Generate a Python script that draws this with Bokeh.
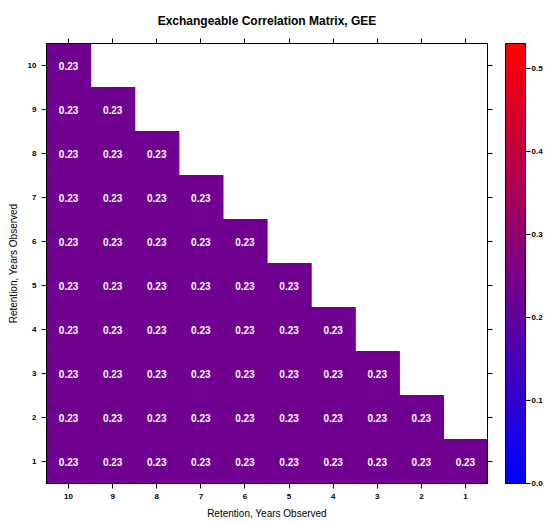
from bokeh.plotting import figure
from bokeh.models import (ColumnDataSource, LinearColorMapper, ColorBar, FixedTicker,
                          PrintfTickFormatter, CategoricalAxis, CustomJSTickFormatter)
from bokeh.transform import transform
from bokeh.core.properties import value
from bokeh.embed import file_html
from bokeh.resources import INLINE

# ---- data ----
x_labels = ["10", "9", "8", "7", "6", "5", "4", "3", "2", "1"]   # columns, left to right
y_labels = ["1", "2", "3", "4", "5", "6", "7", "8", "9", "10"]   # rows, bottom to top

# correlation rows (row label -> values for columns 10..1, None = empty)
corr_rows = {
    "10": [0.23, None, None, None, None, None, None, None, None, None],
    "9":  [0.23, 0.23, None, None, None, None, None, None, None, None],
    "8":  [0.23, 0.23, 0.23, None, None, None, None, None, None, None],
    "7":  [0.23, 0.23, 0.23, 0.23, None, None, None, None, None, None],
    "6":  [0.23, 0.23, 0.23, 0.23, 0.23, None, None, None, None, None],
    "5":  [0.23, 0.23, 0.23, 0.23, 0.23, 0.23, None, None, None, None],
    "4":  [0.23, 0.23, 0.23, 0.23, 0.23, 0.23, 0.23, None, None, None],
    "3":  [0.23, 0.23, 0.23, 0.23, 0.23, 0.23, 0.23, 0.23, None, None],
    "2":  [0.23, 0.23, 0.23, 0.23, 0.23, 0.23, 0.23, 0.23, 0.23, None],
    "1":  [0.23, 0.23, 0.23, 0.23, 0.23, 0.23, 0.23, 0.23, 0.23, 0.23],
}
color_ticks = [0.0, 0.1, 0.2, 0.3, 0.4, 0.5]
color_low, color_high = 0.0, 0.53

xs, ys, vs, labels = [], [], [], []
for row, vals in corr_rows.items():
    for col, v in zip(x_labels, vals):
        if v is not None:
            xs.append(col)
            ys.append(row)
            vs.append(v)
            labels.append(f"{v:.2f}")
src = ColumnDataSource(dict(x=xs, y=ys, v=vs, label=labels))

# blue -> red palette
palette = []
for i in range(256):
    t = i / 255
    palette.append("#%02x%02x%02x" % (round(255 * t), 0, round(255 * (1 - t))))
mapper = LinearColorMapper(palette=palette, low=color_low, high=color_high)

FONT = "Liberation Sans"

p = figure(width=545, height=523, x_range=x_labels, y_range=y_labels,
           output_backend="svg", toolbar_location=None,
           title="Exchangeable Correlation Matrix, GEE",
           min_border_left=46, min_border_top=43, min_border_bottom=40, min_border_right=10)

p.rect(x="x", y="y", width=1, height=1, source=src,
       fill_color=transform("v", mapper), line_color=transform("v", mapper), line_width=1.2)
p.text(x="x", y="y", text="label", source=src, text_color="white",
       text_font=value(FONT), text_font_style="bold", text_font_size="10px",
       text_align="center", text_baseline="middle")

p.title.align = "center"
p.title.standoff = 21
p.title.text_font = FONT
p.title.text_font_size = "12px"
p.title.text_font_style = "bold"
p.title.text_color = "black"

p.grid.visible = False
p.outline_line_color = "black"
p.outline_line_alpha = 1
p.outline_line_width = 1

for ax in (p.xaxis[0], p.yaxis[0]):
    ax.axis_label = "Retention, Years Observed"
    ax.axis_label_text_font = FONT
    ax.axis_label_text_font_size = "10px"
    ax.axis_label_text_font_style = "normal"
    ax.axis_label_text_color = "black"
    ax.axis_label_standoff = 6
    ax.major_label_text_font = FONT
    ax.major_label_text_font_size = "8px"
    ax.major_label_text_font_style = "bold"
    ax.major_label_text_color = "black"
    ax.major_label_standoff = 5
    ax.major_tick_out = 5
    ax.major_tick_in = 0
    ax.axis_line_color = "black"
    ax.major_tick_line_color = "black"

for loc in ("above", "right"):
    ax = CategoricalAxis(formatter=CustomJSTickFormatter(code="return '';"),
                         major_label_text_font_size="8px", major_tick_out=5, major_tick_in=0,
                         major_label_standoff=0,
                         axis_line_color="black", major_tick_line_color="black")
    p.add_layout(ax, loc)

# invisible spacer between the frame's right ticks and the colour bar
spacer = CategoricalAxis(formatter=CustomJSTickFormatter(code="return '';"),
                         major_label_text_font_size="8px", major_tick_out=13, major_tick_in=0,
                         major_label_standoff=0,
                         axis_line_color=None, major_tick_line_color=None)
p.add_layout(spacer, "right")

cb = ColorBar(color_mapper=mapper, ticker=FixedTicker(ticks=color_ticks),
              formatter=PrintfTickFormatter(format="%.1f"),
              width=20, height=440, major_tick_out=5, major_tick_in=0,
              major_tick_line_color="black", bar_line_color="black",
              major_label_text_font=FONT, major_label_text_font_size="8px",
              major_label_text_font_style="bold", major_label_text_color="black",
              label_standoff=1,
              padding=0, margin=0, background_fill_color=None, border_line_color=None)
p.add_layout(cb, "right")

open("out.html", "w").write(file_html(p, INLINE))
